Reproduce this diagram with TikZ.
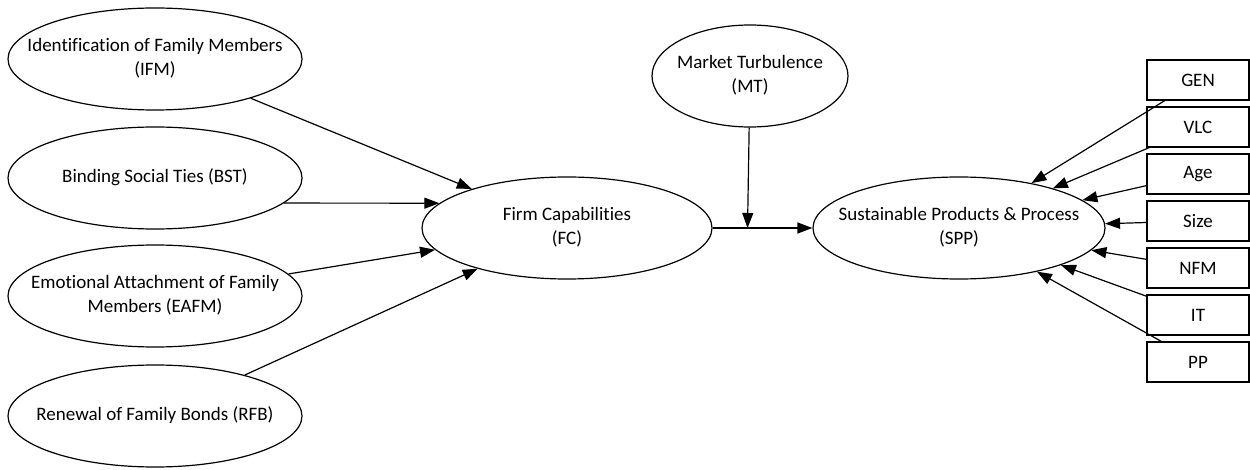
\documentclass[tikz,border=0pt]{standalone}
\usepackage{fontspec}
\setmainfont{Carlito}[Ligatures=NoCommon]
\usetikzlibrary{shapes.geometric,arrows.meta,calc}

% centred label of zero width, so that each shape keeps its own size
\newcommand{\lbl}[1]{\makebox[0pt]{\begin{tabular}{@{}c@{}}#1\end{tabular}}}

\tikzset{
  construct/.style={ellipse, draw, line width=1.2pt, minimum width=294pt,
    minimum height=102pt, inner sep=0pt,
    font=\fontsize{19}{23.5}\selectfont},
  control/.style={rectangle, draw, line width=1.2pt, minimum width=102pt,
    minimum height=40pt, inner sep=0pt,
    font=\fontsize{19}{23.5}\selectfont},
  path arrow/.style={line width=1.2pt, -{Triangle[length=15pt,width=11pt]}},
}

\begin{document}
\begin{tikzpicture}[x=1pt,y=-1pt]
  \fill[white] (0,0) rectangle (1250,470);
  \useasboundingbox (0,0) rectangle (1250,470);

  % antecedents
  \node[construct] (ifm)  at (155,59)  {\lbl{Identification of Family Members\\(IFM)}};
  \node[construct] (bst)  at (155,178) {\lbl{Binding Social Ties (BST)}};
  \node[construct] (eafm) at (155,296) {\lbl{Emotional Attachment of Family\\Members (EAFM)}};
  \node[construct] (rfb)  at (155,416) {\lbl{Renewal of Family Bonds (RFB)}};

  % mediator, moderator, outcome
  \node[construct, minimum width=290pt] (fc) at (567,228) {\lbl{Firm Capabilities\\(FC)}};
  \node[construct, minimum width=196pt] (mt) at (750,76) {\lbl{Market Turbulence\\(MT)}};
  \node[construct, minimum width=292pt] (spp) at (959,228) {\lbl{Sustainable Products \& Process\\(SPP)}};

  % control variables
  \node[control] (gen)  at (1198,80)  {GEN};
  \node[control] (vlc)  at (1198,127) {VLC};
  \node[control] (age)  at (1198,174) {Age};
  \node[control] (size) at (1198,221) {Size};
  \node[control] (nfm)  at (1198,268) {NFM};
  \node[control] (it)   at (1198,315) {IT};
  \node[control] (pp)   at (1198,362) {PP};

  % paths into firm capabilities
  \draw[path arrow] (ifm) -- (fc);
  \draw[path arrow] (bst.-11) -- (fc.169);
  \draw[path arrow] (eafm) -- (fc);
  \draw[path arrow] (rfb) -- (fc);

  % main path and moderation
  \coordinate (mtjoin) at ($(fc.east)!0.35!(spp.west)$);
  \draw[path arrow] (fc) -- (spp);
  \draw[path arrow] (mt) -- (mtjoin);

  % controls on the outcome
  \foreach \c in {gen,vlc,age,size,nfm,it,pp}
    \draw[path arrow] (\c) -- (spp);
\end{tikzpicture}
\end{document}
